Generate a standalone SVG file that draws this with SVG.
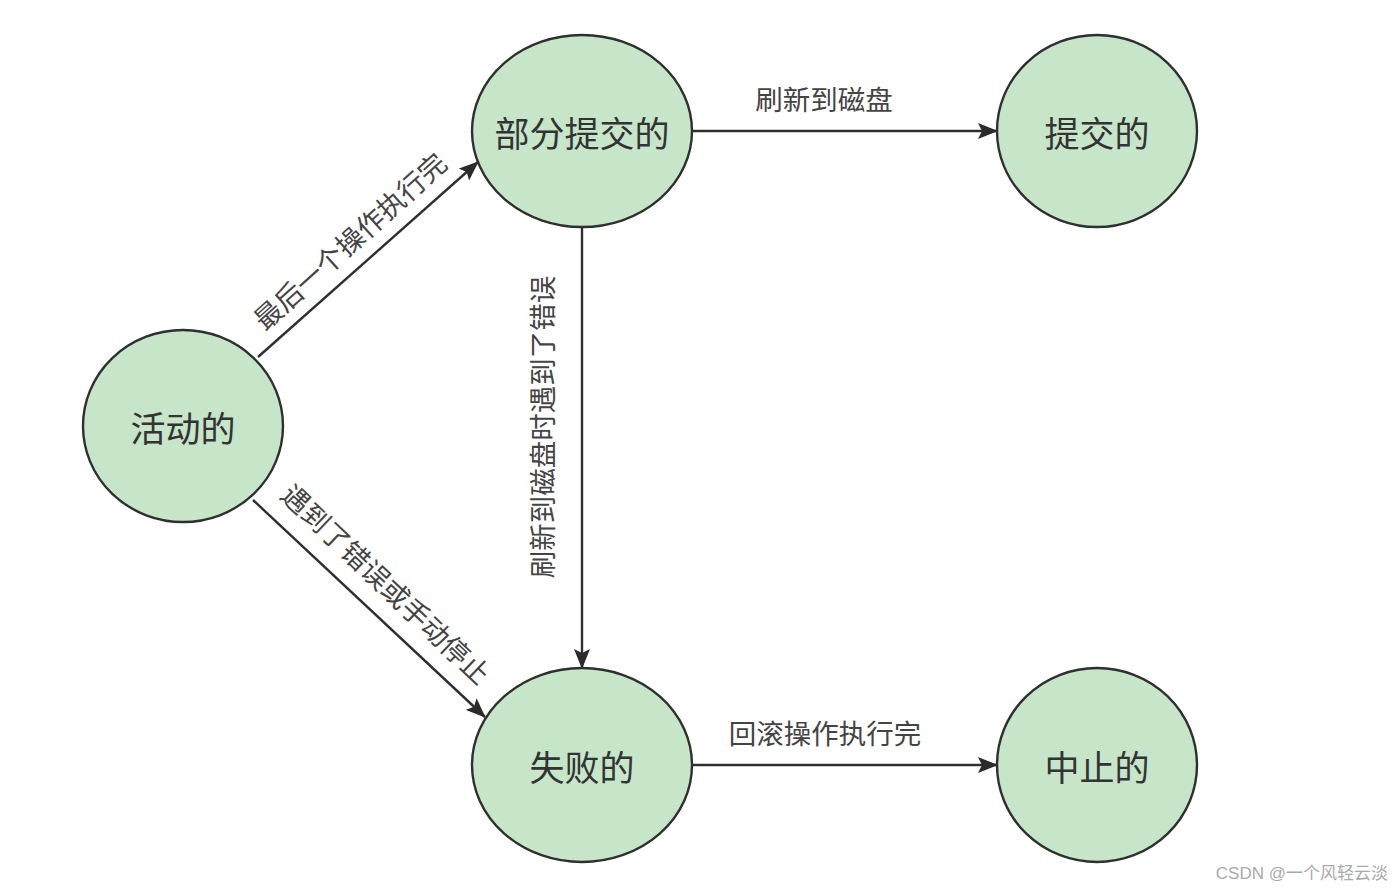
<svg xmlns="http://www.w3.org/2000/svg" width="1400" height="890" viewBox="0 0 1400 890">
<defs>
<marker id="arr" markerUnits="userSpaceOnUse" markerWidth="20" markerHeight="16" refX="19" refY="8" orient="auto">
<path d="M0,0 L20,8 L0,16 L4,8 Z" fill="#2b2b2b"/>
</marker>
<style>
.node{fill:#c6e5c9;stroke:#2f2f2f;stroke-width:2.4}
.nl{font-family:"Noto Sans CJK SC","Noto Sans",sans-serif;font-size:35px;fill:#333;text-anchor:middle;dominant-baseline:central}
.el{font-family:"Noto Sans CJK SC","Noto Sans",sans-serif;font-size:27.5px;fill:#444;text-anchor:middle;dominant-baseline:central}
.edge{stroke:#2f2f2f;stroke-width:2.4;fill:none;marker-end:url(#arr)}
.wm{font-family:"Liberation Sans","Noto Sans CJK SC",sans-serif;font-size:17px;fill:#aaa;text-anchor:end;dominant-baseline:central}
</style>
</defs>
<rect width="1400" height="890" fill="#fff"/>
<g id="connectors">
<line class="edge" x1="258" y1="357" x2="478" y2="162"/>
<line class="edge" x1="253" y1="500" x2="485" y2="717"/>
<line class="edge" x1="582" y1="227" x2="582" y2="668"/>
<line class="edge" x1="692" y1="131" x2="997" y2="131"/>
<line class="edge" x1="692" y1="765" x2="997" y2="765"/>
<text class="el" transform="translate(349,240) rotate(-42)">最后一个操作执行完</text>
<text class="el" transform="translate(387,583) rotate(43.5)">遇到了错误或手动停止</text>
<text class="el" transform="translate(541,427) rotate(-90)">刷新到磁盘时遇到了错误</text>
<text class="el" x="824" y="98">刷新到磁盘</text>
<text class="el" x="825" y="732">回滚操作执行完</text>
</g>
<g id="active">
<ellipse class="node" cx="183" cy="426" rx="100" ry="96"/>
<text class="nl" x="183" y="426">活动的</text>
</g>
<g id="partially-committed">
<ellipse class="node" cx="582" cy="131" rx="110" ry="96"/>
<text class="nl" x="582" y="131">部分提交的</text>
</g>
<g id="committed">
<ellipse class="node" cx="1097" cy="131" rx="100" ry="96"/>
<text class="nl" x="1097" y="131">提交的</text>
</g>
<g id="failed">
<ellipse class="node" cx="582" cy="765" rx="110" ry="97"/>
<text class="nl" x="582" y="765">失败的</text>
</g>
<g id="aborted">
<ellipse class="node" cx="1097" cy="765" rx="100" ry="97"/>
<text class="nl" x="1097" y="765">中止的</text>
</g>
<text class="wm" x="1388" y="873">CSDN @一个风轻云淡</text>
</svg>
